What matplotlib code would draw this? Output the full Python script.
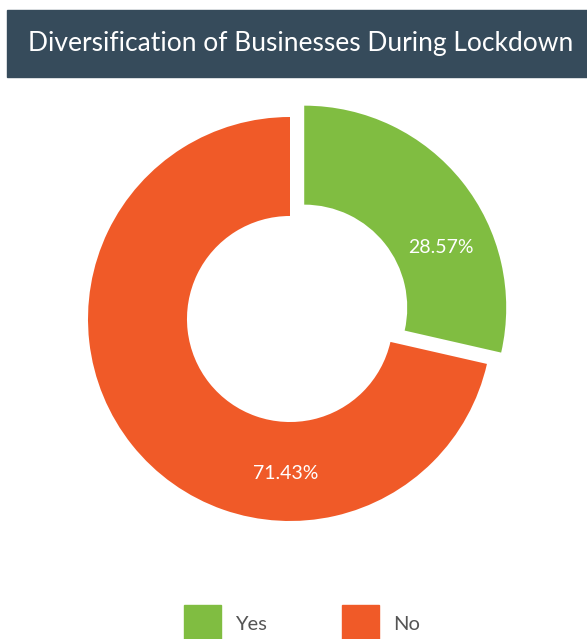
import matplotlib.pyplot as plt
from matplotlib.patches import Rectangle

# data
labels = ["Yes", "No"]
values = [28.57, 71.43]
colors = ["#80bd41", "#f05a28"]
title = "Diversification of Businesses During Lockdown"

W, H = 587, 639
fig = plt.figure(figsize=(W / 100, H / 100), dpi=100)
plt.rcParams['font.family'] = ['Lato', 'DejaVu Sans']

def fx(px):
    return px / W

def fy(py):
    # pixel rows are counted from the top
    return 1 - py / H

# title banner
fig.patches.append(Rectangle((fx(7), fy(77)), fx(580), 67 / H,
                             transform=fig.transFigure, color="#364b5b", zorder=0))
fig.text(fx(301), fy(43), title, color="white", fontsize=19,
         ha="center", va="center")

# donut, centre at (290, 319) px with outer radius 202 px
cx, cy, R = 290, 319, 202
half = 250
ax = fig.add_axes([fx(cx - half), fy(cy + half), fx(2 * half), 2 * half / H])
wedges, _ = ax.pie(values, colors=colors, startangle=90, counterclock=False,
                   explode=[0.09, 0], radius=1,
                   wedgeprops=dict(width=0.49, linewidth=0))
lim = half / R
ax.set_xlim(-lim, lim)
ax.set_ylim(-lim, lim)
ax.set_aspect("equal")
ax.axis("off")

# percentage labels
ax.text(0.745, 0.355, f"{values[0]:.2f}%", color="white", fontsize=14,
        ha="center", va="center")
ax.text(-0.02, -0.765, f"{values[1]:.2f}%", color="white", fontsize=14,
        ha="center", va="center")

# legend along the bottom
for i, (lab, col) in enumerate(zip(labels, colors)):
    x0 = 184 + i * 158
    fig.patches.append(Rectangle((fx(x0), fy(639)), fx(37), 34 / H,
                                 transform=fig.transFigure, color=col))
    fig.text(fx(x0 + 51), fy(624), lab, color="#555555", fontsize=14.5,
             ha="left", va="center")

fig.savefig("out.png", dpi=100)
